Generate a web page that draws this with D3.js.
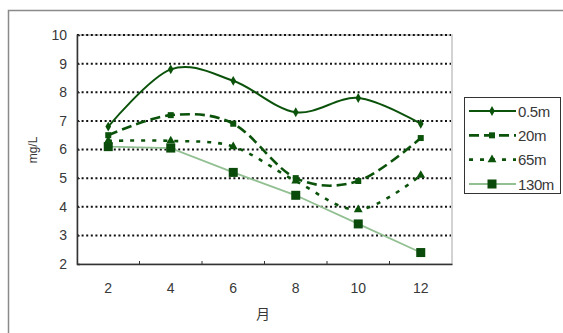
<!DOCTYPE html>
<html>
<head>
<meta charset="utf-8">
<script src="https://cdn.jsdelivr.net/npm/d3@7"></script>
<style>
  html, body { margin: 0; padding: 0; background: #fff; }
  svg { display: block; font-family: "Liberation Sans", Arial, sans-serif; }
</style>
</head>
<body>
<svg id="chart" width="563" height="333"></svg>
<script>
// Months sampled and dissolved-oxygen readings (mg/L) at each depth
const months = [2, 4, 6, 8, 10, 12];
const depth05 = [6.8, 8.8, 8.4, 7.3, 7.8, 6.9];
const depth20 = [6.5, 7.2, 6.9, 5.0, 4.9, 6.4];
const depth65 = [6.3, 6.3, 6.1, 4.9, 3.9, 5.1];
const depth130 = [6.1, 6.05, 5.2, 4.4, 3.4, 2.4];
const seriesNames = ["0.5m", "20m", "65m", "130m"];
const yTicks = [2, 3, 4, 5, 6, 7, 8, 9, 10];

const dark = "#0b520b";
const series = [
  { name: seriesNames[0], values: depth05, stroke: dark, width: 2, dash: null, marker: "diamond", smooth: true },
  { name: seriesNames[1], values: depth20, stroke: dark, width: 2.6, dash: "10,5", marker: "square", smooth: true },
  { name: seriesNames[2], values: depth65, stroke: dark, width: 2.6, dash: "4,7", marker: "triangle", smooth: true },
  { name: seriesNames[3], values: depth130, stroke: "#93c093", width: 1.8, dash: null, marker: "bigsquare", smooth: false }
];

const svg = d3.select("#chart");

// Outer chart frame
svg.append("path")
  .attr("d", "M8.5,333 V10.5 H563")
  .attr("fill", "none").attr("stroke", "#8a8a8a").attr("stroke-width", 1.5);

const plot = { left: 77, right: 452, top: 35, bottom: 264 };

const x = d3.scaleBand().domain(months).range([plot.left, plot.right]);
const y = d3.scaleLinear().domain([2, 10]).range([plot.bottom, plot.top]);

// Plot area border (light)
svg.append("rect")
  .attr("x", plot.left).attr("y", plot.top)
  .attr("width", plot.right - plot.left).attr("height", plot.bottom - plot.top)
  .attr("fill", "none").attr("stroke", "#c4c4c4").attr("stroke-width", 1.5);

// Dotted horizontal gridlines
svg.append("g")
  .selectAll("line")
  .data(yTicks.filter(d => d > 2))
  .join("line")
  .attr("x1", plot.left).attr("x2", plot.right - 1)
  .attr("y1", d => y(d)).attr("y2", d => y(d))
  .attr("stroke", "#111").attr("stroke-width", 2)
  .attr("stroke-dasharray", "2,2.6");

// Y axis
const yAxis = svg.append("g")
  .attr("transform", `translate(${plot.left},0)`)
  .call(d3.axisLeft(y).tickValues(yTicks).tickSize(-3).tickPadding(10).tickFormat(d3.format("d")));
yAxis.select(".domain").attr("stroke", "#333").attr("stroke-width", 1.5);
yAxis.selectAll(".tick line").attr("stroke", "#333");
yAxis.selectAll("text").attr("font-size", 14).attr("fill", "#383838");

// X axis with ticks between categories
const xAxis = svg.append("g")
  .attr("transform", `translate(0,${plot.bottom})`)
  .call(d3.axisBottom(x).tickSize(0).tickPadding(19));
xAxis.select(".domain").attr("stroke", "#333").attr("stroke-width", 1.5);
xAxis.selectAll("text").attr("font-size", 14).attr("fill", "#383838");
svg.append("g")
  .selectAll("line")
  .data(months.slice(1))
  .join("line")
  .attr("x1", d => x(d)).attr("x2", d => x(d))
  .attr("y1", plot.bottom).attr("y2", plot.bottom - 3)
  .attr("stroke", "#333").attr("stroke-width", 1);

// Axis titles
svg.append("text")
  .attr("transform", "translate(37,150) rotate(-90)")
  .attr("text-anchor", "middle")
  .attr("font-size", 12).attr("fill", "#383838")
  .text("mg/L");
svg.append("text")
  .attr("x", 263).attr("y", 319)
  .attr("text-anchor", "middle")
  .attr("font-family", "'Noto Sans CJK JP', sans-serif")
  .attr("font-size", 14).attr("fill", "#383838")
  .text("月");

const cx = d => x(d) + x.bandwidth() / 2;

function drawMarker(g, type, px, py) {
  if (type === "diamond") {
    g.append("path").attr("d", d3.symbol(d3.symbolDiamond, 28)())
      .attr("transform", `translate(${px},${py})`).attr("fill", dark);
  } else if (type === "square") {
    g.append("rect").attr("x", px - 3).attr("y", py - 3).attr("width", 6).attr("height", 6).attr("fill", dark);
  } else if (type === "triangle") {
    g.append("path").attr("d", d3.symbol(d3.symbolTriangle, 34)())
      .attr("transform", `translate(${px},${py})`).attr("fill", dark);
  } else if (type === "bigsquare") {
    g.append("rect").attr("x", px - 4.5).attr("y", py - 4.5).attr("width", 9).attr("height", 9).attr("fill", "#0a4a0a");
  }
}

// Series lines and markers
series.slice().reverse().forEach(s => {
  const line = d3.line()
    .x((d, i) => cx(months[i]))
    .y(d => y(d))
    .curve(s.smooth ? d3.curveCardinal.tension(0) : d3.curveLinear);
  const g = svg.append("g");
  g.append("path")
    .datum(s.values)
    .attr("d", line)
    .attr("fill", "none")
    .attr("stroke", s.stroke)
    .attr("stroke-width", s.width)
    .attr("stroke-dasharray", s.dash);
  s.values.forEach((v, i) => drawMarker(g, s.marker, cx(months[i]), y(v)));
});

// Legend
const lg = svg.append("g");
lg.append("rect")
  .attr("x", 464.5).attr("y", 97.5).attr("width", 96).attr("height", 96)
  .attr("fill", "#fff").attr("stroke", "#333").attr("stroke-width", 1);
const legendY = d3.scalePoint().domain(seriesNames).range([111, 184]);
series.forEach(s => {
  const ly = legendY(s.name);
  lg.append("line")
    .attr("x1", 469).attr("x2", 516).attr("y1", ly).attr("y2", ly)
    .attr("stroke", s.stroke).attr("stroke-width", s.width)
    .attr("stroke-dasharray", s.dash);
  drawMarker(lg, s.marker, 492, ly);
  lg.append("text")
    .attr("x", 518).attr("y", ly + 5.5)
    .attr("font-size", 15).attr("fill", "#383838")
    .attr("letter-spacing", -0.4)
    .text(s.name);
});
</script>
</body>
</html>
